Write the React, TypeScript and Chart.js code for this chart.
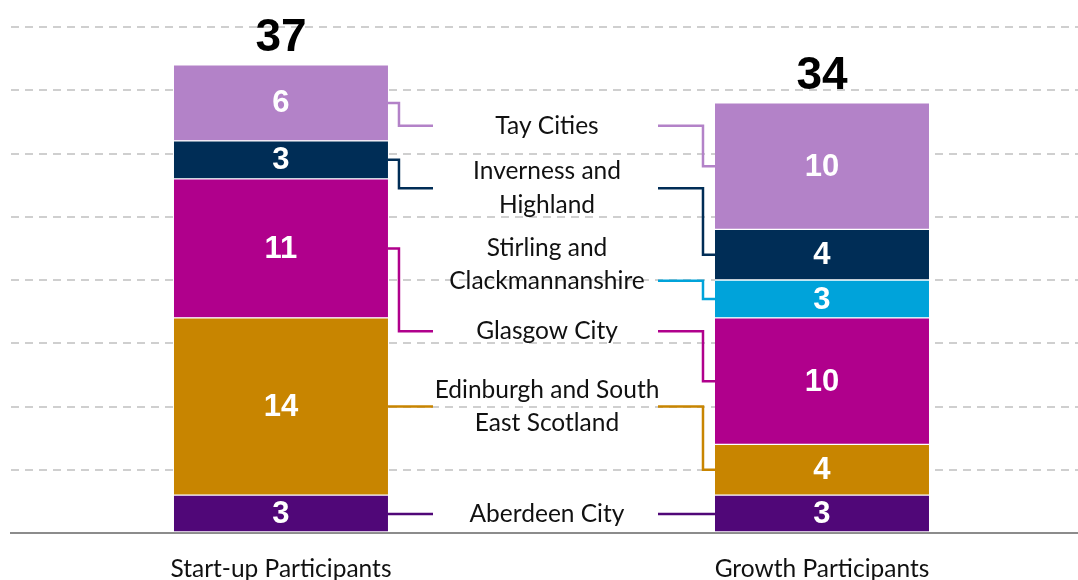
import React, { useEffect, useRef } from "react";
import { Chart, registerables } from "chart.js";

Chart.register(...registerables);

const categories = ["Start-up Participants", "Growth Participants"];
const regions = [
  "Aberdeen City",
  "Edinburgh and South East Scotland",
  "Glasgow City",
  "Stirling and Clackmannanshire",
  "Inverness and Highland",
  "Tay Cities",
];
const regionLabelLines = [
  ["Aberdeen City"],
  ["Edinburgh and South", "East Scotland"],
  ["Glasgow City"],
  ["Stirling and", "Clackmannanshire"],
  ["Inverness and", "Highland"],
  ["Tay Cities"],
];
const startupValues = [3, 14, 11, 0, 3, 6];
const growthValues = [3, 4, 10, 3, 4, 10];
const regionColors = ["#500778", "#C88500", "#B0008C", "#00A3DA", "#002D56", "#B382C8"];
const yMax = 40;
const yStep = 5;

// label layout (value-axis units) for the middle legend labels
const labelConnectorY = [1.5, 10, 15.95, 19.95, 27.25, 32.2];
const labelTextY = [1.5, 10, 15.95, 21.2, 27.25, 32.2];

const TEXT_FONT = '"Lato", "Open Sans", sans-serif';
const NUM_FONT = '"Liberation Sans", Arial, sans-serif';

const overlayPlugin = {
  id: "overlay",
  afterDatasetsDraw(chart: any) {
    const ctx = chart.ctx;
    const yScale = chart.scales.y;
    const metas = chart.data.datasets.map((_: any, i: number) => chart.getDatasetMeta(i));
    const val = (di: number, ci: number) => chart.data.datasets[di].data[ci].y;

    ctx.save();
    // segment value labels
    ctx.fillStyle = "#ffffff";
    ctx.textAlign = "center";
    ctx.textBaseline = "middle";
    ctx.font = `bold 31px ${NUM_FONT}`;
    metas.forEach((meta: any, di: number) => {
      meta.data.forEach((el: any, ci: number) => {
        const v = val(di, ci);
        if (!v) return;
        ctx.fillText(String(v), el.x, (el.y + el.base) / 2 + 1);
      });
    });

    // totals
    ctx.fillStyle = "#000000";
    ctx.textBaseline = "alphabetic";
    ctx.font = `bold 46px ${NUM_FONT}`;
    categories.forEach((_, ci) => {
      let total = 0;
      chart.data.datasets.forEach((ds: any) => (total += ds.data[ci].y || 0));
      const x = metas[0].data[ci].x;
      ctx.fillText(String(total), x, yScale.getPixelForValue(total) - 14);
    });

    // connectors + labels
    const leftBar = metas[0].data[0];
    const rightBar = metas[0].data[1];
    const leftEdge = leftBar.x + leftBar.width / 2;
    const rightEdge = rightBar.x - rightBar.width / 2;
    const labelCenterX = 547;
    const lineStartL = 433;
    const lineEndR = 658;
    ctx.lineWidth = 2.5;
    ctx.lineJoin = "miter";
    regions.forEach((_, ri) => {
      const color = regionColors[ri];
      ctx.strokeStyle = color;
      const cy = yScale.getPixelForValue(labelConnectorY[ri]);
      if (startupValues[ri]) {
        const el = metas[ri].data[0];
        let my = (el.y + el.base) / 2;
        if (Math.abs(my - cy) < 2) my = cy;
        const ex = leftEdge + 11;
        ctx.beginPath();
        ctx.moveTo(leftEdge, my);
        ctx.lineTo(ex, my);
        ctx.lineTo(ex, cy);
        ctx.lineTo(lineStartL, cy);
        ctx.stroke();
      }
      if (growthValues[ri]) {
        const el = metas[ri].data[1];
        let my = (el.y + el.base) / 2;
        if (Math.abs(my - cy) < 2) my = cy;
        const ex = rightEdge - 12;
        ctx.beginPath();
        ctx.moveTo(lineEndR, cy);
        ctx.lineTo(ex, cy);
        ctx.lineTo(ex, my);
        ctx.lineTo(rightEdge, my);
        ctx.stroke();
      }
      ctx.fillStyle = "#111111";
      ctx.font = `24.5px ${TEXT_FONT}`;
      ctx.textAlign = "center";
      ctx.textBaseline = "middle";
      const lines = regionLabelLines[ri];
      const ty = yScale.getPixelForValue(labelTextY[ri]);
      const lh = 33.5;
      lines.forEach((ln, li) => {
        ctx.fillText(ln, labelCenterX, ty + (li - (lines.length - 1) / 2) * lh);
      });
    });
    ctx.restore();
  },
};

export default function App() {
  const ref = useRef<HTMLCanvasElement>(null);
  useEffect(() => {
    if (!ref.current) return;
    const mk = (vals: number[]) =>
      vals.map((v, i) => ({ x: i, y: v === 0 ? null : v }));
    const chart = new Chart(ref.current, {
      type: "bar",
      data: {
        datasets: regions.map((r, ri) => ({
          label: r,
          data: mk([startupValues[ri], growthValues[ri]]) as any,
          backgroundColor: regionColors[ri],
          borderColor: "#ffffff",
          borderWidth: { top: 1, bottom: 1, left: 0, right: 0 },
          borderSkipped: false,
          barThickness: 214,
        })),
      },
      options: {
        animation: false,
        responsive: false,
        devicePixelRatio: 1,
        layout: { padding: { left: 11, right: 0, top: 27, bottom: 0 } },
        plugins: { legend: { display: false }, tooltip: { enabled: false } },
        scales: {
          x: {
            type: "linear",
            stacked: true,
            offset: false,
            min: -0.499,
            max: 1.4732,
            grid: { display: false },
            border: { display: true, color: "#8c8c8c", width: 2 },
            afterBuildTicks: (scale: any) => {
              scale.ticks = categories.map((_, i) => ({ value: i }));
            },
            afterFit: (scale: any) => {
              scale.height = 47;
            },
            ticks: {
              autoSkip: false,
              maxRotation: 0,
              padding: 13,
              color: "#111111",
              font: { family: TEXT_FONT, size: 24.5 },
              callback: (v: any) => categories[v] ?? "",
            },
          },
          y: {
            stacked: true,
            min: 0,
            max: yMax,
            ticks: { display: false, stepSize: yStep },
            afterFit: (scale: any) => {
              scale.width = 0;
            },
            border: { display: false, dash: [8, 6] },
            grid: {
              color: (c: any) => (c.tick && c.tick.value === 0 ? "rgba(0,0,0,0)" : "#cfcfcf"),
              lineWidth: 2,
              drawTicks: false,
            },
          },
        },
      },
      plugins: [overlayPlugin],
    });
    return () => chart.destroy();
  }, []);
  return (
    <div style={{ position: "fixed", left: 0, top: 0, width: 1078, height: 580, background: "#fff" }}>
      <canvas ref={ref} width={1078} height={580} style={{ display: "block" }} />
    </div>
  );
}
